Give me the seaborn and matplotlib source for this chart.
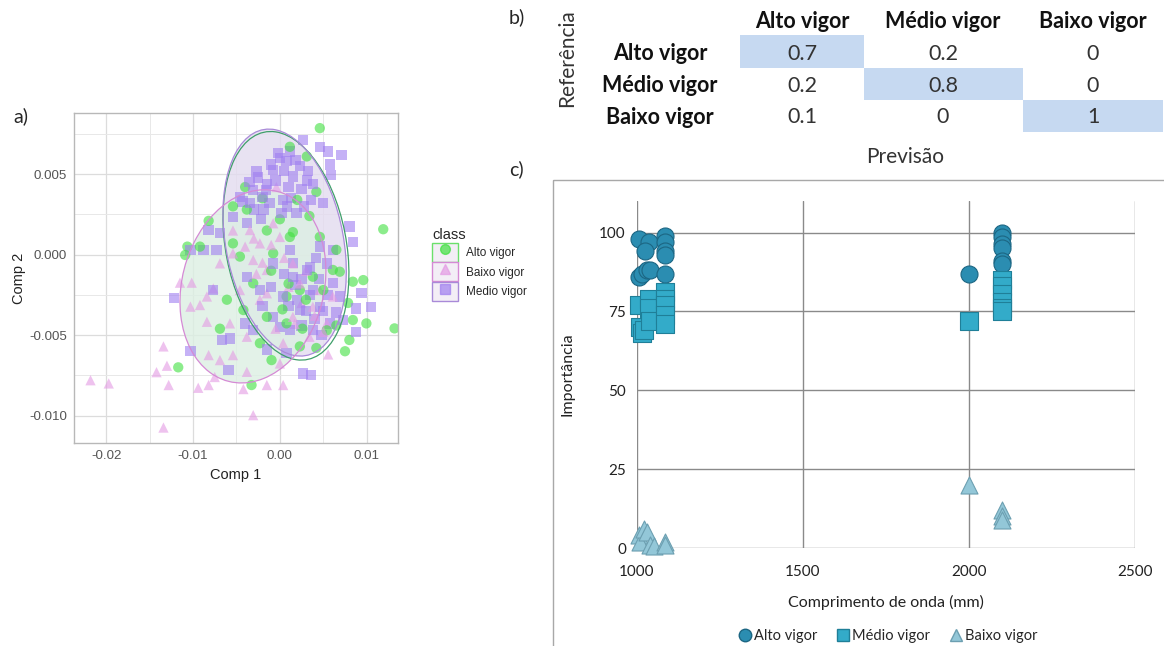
import numpy as np
import pandas as pd
import matplotlib
matplotlib.use("Agg")
import matplotlib.pyplot as plt
from matplotlib.patches import Ellipse, Rectangle
from matplotlib.lines import Line2D
from matplotlib.legend_handler import HandlerTuple
import seaborn as sns

# ---------------- data: panel a (values in units of 1e-3) ----------------
alto_x = [4.6, 11.9, 13.2, -10.65, -10.9, -11.7, -3.26, -8.2, -9.2, -6.1, -6.9, -5.4, -4.0, 1.15, 3.1,
          4.2, 3.4, 1.5, 6.9, 8.4, 9.6, 9.96, 8.4, 8.0, 7.5, 7.85, -0.96, -1.5, 0.77, 2.3, -0.77, -3.07,
          -2.3, 6.5, 6.1, 4.6, 0.77, -4.2, 2.3, 5.4, -4.6, 1.15, 3.8, -1.5, -5.4,
          -2.0, 0.0, 2.0, 1.0, 3.0, 5.0, 2.6, 4.2, 6.5, -1.0, 0.3, -3.8]
alto_y = [7.86, 1.58, -4.58, 0.5, -0.02, -7.0, -8.1, 2.1, 0.5, -2.8, -4.6, 3.0, 4.2, 6.7, 6.1,
          3.9, 2.4, 1.4, -1.06, -1.68, -1.58, -4.27, -4.06, -5.3, -6.0, -3.0, -6.55, -3.86, -4.27, -5.7, 0.08, -1.78,
          -5.5, 0.3, -0.95, 1.1, -2.6, -3.44, -2.2, -4.7, -0.12, 1.1, -1.37, 1.5, 0.7,
          3.5, 2.2, 3.4, -1.8, -2.8, -2.2, -4.6, -5.8, -4.4, -1.0, -3.4, 2.8]
baixo_x = [-21.8, -19.7, -14.2, -13.4, -13.0, -13.4, -12.8, -11.5, -10.15, -10.3, -9.2, -9.4, -8.2, -7.5,
           -8.4, -8.2, -6.9, -5.4, -4.2, -3.8, -3.07, -1.5, 0.38, 0.0, 5.56, -7.66, -6.9, -5.4, -3.45, -2.3,
           -0.77, 0.0, 1.5, -3.07, -1.5, -0.4, 2.3, 3.8, 5.4, 6.1, 1.5, -4.6, -2.3, -5.75, -3.8, 0.38, 3.4,
           -8.4, 4.6, -5.4,
           -4.0, -3.0, -2.0, -1.0, -2.7, -1.5, 0.5, 1.0, 2.5, 4.0, 3.0, -0.5, 5.0, 1.7]
baixo_y = [-7.8, -8.0, -7.3, -5.7, -6.9, -10.74, -8.1, -1.74, -1.74, -3.23, -3.13, -8.27, -8.1, -7.6,
           -4.17, -6.24, -6.55, -6.24, -8.35, -7.28, -9.97, -8.1, -8.1, -6.76, -6.2, -2.1, -0.54, 0.08, 1.53, 0.7,
           1.95, 1.1, -0.54, -0.33, -0.95, 4.2, -1.78, -3.23, -4.27, -2.6, -3.86, -2.2, -2.8, -4.27, -5.1, -5.5, -5.1,
           -2.6, -2.2, 1.5,
           0.5, 1.0, -0.5, 0.6, -1.2, -2.4, -0.2, -2.0, -3.0, -3.8, -1.0, -4.6, -4.8, -4.3]
medio_x = [2.7, 4.6, 5.56, 5.75, 7.1, 5.9, 3.6, 5.0, 8.0, 8.4, 10.5, 9.4, 8.8, 8.8, 2.7, 3.6, -12.2, -10.3,
           -5.9, -6.7, -5.75, -4.0, -8.2, -6.9, -8.8, -7.3, -4.6, -2.7, 0.0, 0.77, -1.5, -3.07, 1.5, 2.3, 3.1,
           -0.77, -3.45, -1.9, 0.38, 1.9, -5.4, -3.8, 4.6, 6.1, 5.4, 3.1, 1.5, 3.8, 6.1, 6.9, 4.6, 2.3, 0.38,
           -0.77, 1.15, 3.8, 5.75, 7.3, -1.5, 0.77, -3.07, -2.3, -3.8, -0.77, 1.15, -10.3, -7.66,
           -3.5, -2.5, -2.0, -1.0, -0.5, 0.5, 1.0, 1.8, 2.5, 3.2, -3.0, -1.2, 0.2, 1.3, 2.8, -4.3, -2.2, -0.2,
           1.2, 3.8, -1.6, 0.8,
           0.5, 1.5, 2.5, 3.5, 4.5, 5.5, 2.0, 3.0, 4.0, 5.0, 1.0, 2.5, 4.8, 3.5, 6.5, 1.8, 4.2, 0.0, -1.0, -2.0]
medio_y = [7.13, 6.7, 6.4, 5.6, 6.2, 4.95, 3.4, 3.2, 1.74, 0.8, -3.23, -2.4, -3.34, -4.8, -7.38, -7.48, -2.7, -6.0,
           -7.17, -5.3, -5.2, -4.27, 1.53, 1.33, 0.3, 0.3, 3.6, 5.16, 6.0, 5.8, 4.4, 4.0, 4.85, 5.5, 4.6,
           5.27, 3.2, 2.8, 3.4, 2.57, 2.36, 1.95, 0.5, 0.3, -0.54, -0.95, -1.37, -2.2, -1.78, -2.6, -3.23, -3.44, -2.6,
           -3.86, -4.7, -4.7, -4.27, -4.06, -5.9, -6.1, -4.7, -2.2, -1.37, -0.54, 0.3, 0.3, -2.2,
           4.5, 4.8, 3.6, 5.6, 4.6, 5.2, 4.2, 5.9, 4.1, 5.2, 2.8, 3.2, 2.6, 3.5, 3.0, 3.3, 2.2, 6.3,
           6.4, 4.4, 4.0, 3.0,
           -1.2, -0.5, -1.5, -0.8, -1.5, -2.5, -2.8, -3.5, -4.0, -3.5, -3.2, -4.4, -5.0, -2.5, -3.6, -1.9, -0.2, -4.5, -2.0, -3.2]

# stat_ellipse outlines (units 1e-3): centre, half-extent x/y, covariance term
ell_class = ["Alto vigor", "Medio vigor", "Baixo vigor"]
ell_cx = [0.7, 0.55, -3.1]
ell_cy = [0.55, 0.75, -1.97]
ell_sx = [7.25, 7.1, 8.4]
ell_sy = [7.1, 7.05, 6.0]
ell_cxy = [-12.5, -12.8, 8.0]

# ---------------- data: panel b ----------------
conf_labels = ["Alto vigor", "Médio vigor", "Baixo vigor"]
conf_values = [[0.7, 0.2, 0],
               [0.2, 0.8, 0],
               [0.1, 0, 1]]

# ---------------- data: panel c ----------------
alto_wl = [1005, 1035, 1025, 1085, 1085, 1085, 1085, 1005, 1015, 1030, 1040, 1085,
           2000, 2100, 2100, 2100, 2100, 2100, 2100]
alto_imp = [98, 97, 94, 99, 97, 94, 93, 86, 87, 88, 88, 87, 87, 100, 98.5, 96.5, 95, 91, 90]
medio_wl = [1005, 1010, 1015, 1020, 1035, 1035, 1040, 1085, 1085, 1085, 1085, 1085,
            2000, 2100, 2100, 2100, 2100, 2100, 2100]
medio_imp = [77, 70, 68, 69, 79, 76, 72, 81, 79, 77, 74, 71, 72, 85, 83, 80.5, 78, 76, 75]
baixo_wl = [1005, 1010, 1020, 1030, 1040, 1050, 1085, 1085, 2000, 2100, 2100, 2100]
baixo_imp = [4, 2, 6, 5, 1, 0.5, 2, 1, 20, 12, 10, 9]

# ================= figure =================
sns.set_theme(style="white")
plt.rcParams["font.family"] = ["Liberation Sans", "DejaVu Sans"]
W, H = 1164, 646
fig = plt.figure(figsize=(W / 100, H / 100), dpi=100)

def fx(px):
    return px / W

def fy(py):
    return 1 - py / H

# ---------------- panel a ----------------
axa = fig.add_axes([fx(74), fy(443), fx(398) - fx(74), fy(113) - fy(443)])
dfa = pd.DataFrame({
    "x": np.r_[alto_x, baixo_x, medio_x] * 1e-3,
    "y": np.r_[alto_y, baixo_y, medio_y] * 1e-3,
    "class": ["Alto vigor"] * len(alto_x) + ["Baixo vigor"] * len(baixo_x) + ["Medio vigor"] * len(medio_x),
})
# interleave drawing order like ggplot
dfa = dfa.sample(frac=1.0, random_state=3).reset_index(drop=True)
pal_a = {"Alto vigor": "#3fe03f", "Baixo vigor": "#e49ae4", "Medio vigor": "#9f7ef0"}
mk_a = {"Alto vigor": "o", "Baixo vigor": "^", "Medio vigor": "s"}

ell_edge = {"Alto vigor": "#3f9f6a", "Medio vigor": "#a98ad8", "Baixo vigor": "#d58ad5"}
ell_face = {"Alto vigor": "none", "Medio vigor": "#e3dbef", "Baixo vigor": "#dcefe3"}
ell_alpha = {"Alto vigor": 1.0, "Medio vigor": 0.8, "Baixo vigor": 0.8}


def ell_geom(i):
    M = np.array([[ell_sx[i] ** 2, ell_cxy[i]], [ell_cxy[i], ell_sy[i] ** 2]]) * 1e-6
    vals, vecs = np.linalg.eigh(M)
    ang = np.degrees(np.arctan2(vecs[1, 1], vecs[0, 1]))
    return (ell_cx[i] * 1e-3, ell_cy[i] * 1e-3), 2 * np.sqrt(vals[1]), 2 * np.sqrt(vals[0]), ang


for i, c in enumerate(ell_class):
    cen, w, h, ang = ell_geom(i)
    axa.add_patch(Ellipse(cen, w, h, angle=ang, facecolor=ell_face[c], edgecolor="none",
                          alpha=ell_alpha[c], zorder=1))
sns.scatterplot(data=dfa, x="x", y="y", hue="class", style="class", palette=pal_a, markers=mk_a,
                s=55, alpha=0.6, linewidth=0, ax=axa, legend=False, zorder=2)
for i, c in enumerate(ell_class):
    cen, w, h, ang = ell_geom(i)
    axa.add_patch(Ellipse(cen, w, h, angle=ang, facecolor="none", edgecolor=ell_edge[c], lw=0.9, zorder=3))

axa.set_xlim(-0.0237, 0.0136)
axa.set_ylim(-0.0117, 0.0088)
axa.set_xticks([-0.02, -0.01, 0.0, 0.01])
axa.set_xticklabels(["-0.02", "-0.01", "0.00", "0.01"])
axa.set_yticks([-0.01, -0.005, 0.0, 0.005])
axa.set_yticklabels(["-0.010", "-0.005", "0.000", "0.005"])
axa.set_xticks([-0.015, -0.005, 0.005], minor=True)
axa.set_yticks([-0.0075, -0.0025, 0.0025, 0.0075], minor=True)
axa.grid(True, which="major", color="#dcdcdc", lw=0.9, zorder=0)
axa.grid(True, which="minor", color="#e8e8e8", lw=0.7, zorder=0)
axa.set_axisbelow(True)
for sp in axa.spines.values():
    sp.set_color("#b8b8b8")
    sp.set_linewidth(1.0)
axa.tick_params(which="major", length=3, color="#b8b8b8", labelsize=9.6, labelcolor="#555555", pad=2)
axa.tick_params(which="minor", length=0)
axa.set_xlabel("Comp 1", fontsize=10.5, color="#222222", labelpad=4)
axa.set_ylabel("Comp 2", fontsize=10.5, color="#222222", labelpad=2)

handles = []
for c in ["Alto vigor", "Baixo vigor", "Medio vigor"]:
    r = Rectangle((0, 0), 1, 1, facecolor="#f3eef6",
                  edgecolor=ell_edge[c] if c != "Alto vigor" else "#6be06b", lw=1.0)
    m = Line2D([], [], marker=mk_a[c], color=pal_a[c], alpha=0.7, linestyle="none", markersize=7)
    handles.append((r, m))
fig.legend(handles, ["Alto vigor", "Baixo vigor", "Medio vigor"], title="class",
           handler_map={tuple: HandlerTuple(ndivide=1)},
           loc="upper left", bbox_to_anchor=(fx(431), fy(227)), frameon=False,
           fontsize=8.5, title_fontsize=10.5, handlelength=2.2, handleheight=2.1,
           labelspacing=0.05, handletextpad=0.7, alignment="left", borderaxespad=0, borderpad=0.1)

# ---------------- panel labels ----------------
lab_font = ["Lato", "DejaVu Sans"]
fig.text(fx(13), fy(116), "a)", fontsize=14, family=lab_font, va="center", ha="left")
fig.text(fx(509), fy(17), "b)", fontsize=14, family=lab_font, va="center", ha="left")
fig.text(fx(509), fy(169), "c)", fontsize=14, family=lab_font, va="center", ha="left")

# ---------------- panel b: confusion table ----------------
axb = fig.add_axes([0, 0, 1, 1], facecolor="none")
axb.set_xlim(0, W)
axb.set_ylim(H, 0)
axb.axis("off")
col_edges = [740, 864, 1023, 1163]
row_edges = [35, 68, 100, 132]
col_centers = [802, 943, 1093]
row_centers = [54, 86, 117]
diag = np.eye(3)
axb.pcolormesh(col_edges, row_edges, np.ma.masked_equal(diag, 0),
               cmap=matplotlib.colors.ListedColormap(["#c6d9f1"]), shading="flat", zorder=0)
for j, lab in enumerate(conf_labels):
    axb.text(col_centers[j], 21, lab, ha="center", va="center", fontsize=15.5, fontweight="bold",
             family=lab_font, color="#111111")
    axb.text(660, row_centers[j], lab, ha="center", va="center", fontsize=15.5, fontweight="bold",
             family=lab_font, color="#111111")
for i in range(3):
    for j in range(3):
        v = conf_values[i][j]
        axb.text(col_centers[j], row_centers[i], f"{v:g}", ha="center", va="center", fontsize=15.5,
                 family=lab_font, color="#333333")
axb.text(567, 58, "Referência", rotation=90, ha="center", va="center", fontsize=15, family=lab_font,
         color="#333333")
axb.text(905, 157, "Previsão", ha="center", va="center", fontsize=15, family=lab_font, color="#333333")
# chart frame of panel c
axb.add_patch(Rectangle((553, 180), 700, 600, facecolor="none", edgecolor="#a8a8a8", lw=1.0, zorder=0))

# ---------------- panel c ----------------
axc = fig.add_axes([fx(637), fy(548), fx(1135) - fx(637), fy(201) - fy(548)], facecolor="none")
dfc = pd.DataFrame({
    "wl": alto_wl + medio_wl + baixo_wl,
    "imp": alto_imp + medio_imp + baixo_imp,
    "class": ["Alto vigor"] * len(alto_wl) + ["Médio vigor"] * len(medio_wl) + ["Baixo vigor"] * len(baixo_wl),
})
pal_c = {"Alto vigor": "#2b8db1", "Médio vigor": "#33abc9", "Baixo vigor": "#93c7d8"}
edge_c = {"Alto vigor": "#1c6683", "Médio vigor": "#1f7f98", "Baixo vigor": "#6c9fb1"}
mk_c = {"Alto vigor": "o", "Médio vigor": "s", "Baixo vigor": "^"}
for c in ["Alto vigor", "Médio vigor", "Baixo vigor"]:
    sub = dfc[dfc["class"] == c]
    sns.scatterplot(data=sub, x="wl", y="imp", marker=mk_c[c], color=pal_c[c], edgecolor=edge_c[c],
                    linewidth=0.8, s=150, ax=axc, legend=False, zorder=3, clip_on=False)
axc.set_xlim(1000, 2500)
axc.set_ylim(0, 110)
axc.set_xticks([1000, 1500, 2000, 2500])
axc.set_yticks([0, 25, 50, 75, 100])
axc.grid(True, color="#8a8a8a", lw=1.0, zorder=0)
axc.set_axisbelow(True)
for sp in ["top", "right", "left", "bottom"]:
    axc.spines[sp].set_visible(False)
axc.tick_params(axis="both", length=5, color="#8a8a8a", width=1.0, labelsize=11, labelcolor="#222222", pad=3)
axc.tick_params(axis="x", pad=7)
for t in axc.get_xticklabels() + axc.get_yticklabels():
    t.set_family(lab_font)
axc.set_xlabel("Comprimento de onda (mm)", fontsize=11.5, family=lab_font, color="#222222", labelpad=12)
axc.set_ylabel("Importância", fontsize=11.5, family=lab_font, color="#222222", labelpad=18)

hc = [Line2D([], [], marker=mk_c[c], color=pal_c[c], markeredgecolor=edge_c[c], linestyle="none", markersize=9)
      for c in ["Alto vigor", "Médio vigor", "Baixo vigor"]]
fig.legend(hc, ["Alto vigor", "Médio vigor", "Baixo vigor"], loc="center", bbox_to_anchor=(fx(887), fy(636)),
           ncol=3, frameon=False, prop={"family": lab_font, "size": 10.5}, handletextpad=0.0,
           columnspacing=1.2, handlelength=1.2, borderaxespad=0)

fig.savefig("out.png", dpi=100)
